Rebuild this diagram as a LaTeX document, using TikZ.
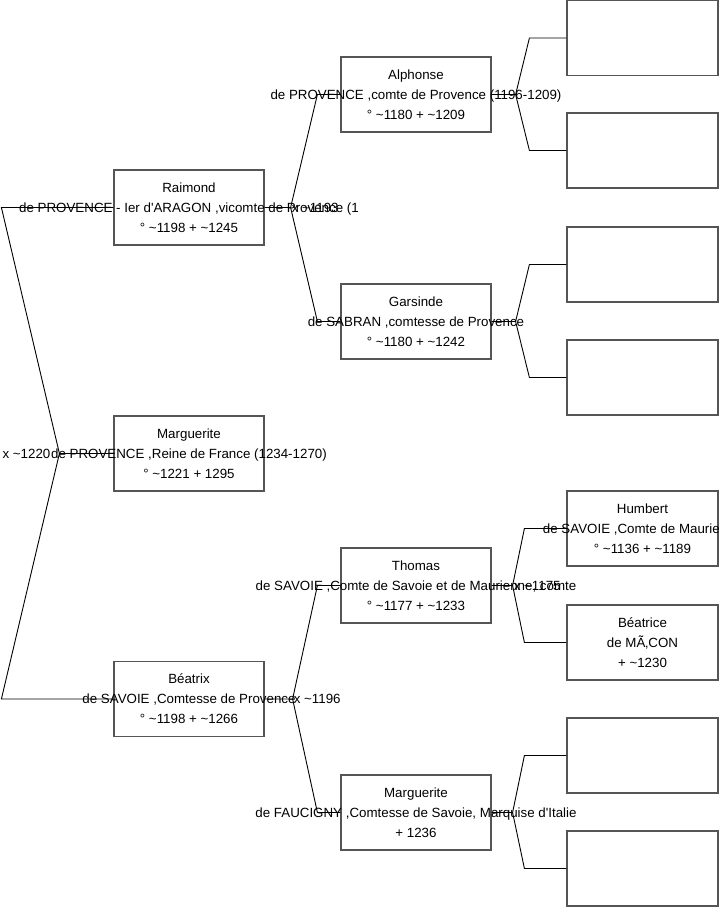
\documentclass[tikz,border=0pt]{standalone}
\usepackage{fontspec}
\setmainfont{Liberation Sans}[Ligatures=TeXOff]
\usepackage{tikz}
\definecolor{boxline}{HTML}{555555}
\newcommand{\circa}{\textasciitilde}

\begin{document}
\begin{tikzpicture}[x=1pt, y=-1pt,
  person/.style={draw=boxline, line width=1.2pt, minimum width=150pt, minimum height=75pt, inner sep=0pt},
  ancestor/.style={person, minimum width=151pt},
  ptext/.style={align=center, font=\fontsize{13.33}{20}\selectfont, inner sep=0pt},
  link/.style={draw=black, line width=0.9pt},
  union/.style={font=\fontsize{13.33}{20}\selectfont, anchor=west, inner sep=1pt}]
  \useasboundingbox (0,0) rectangle (719,908);

  % first generation
  \node[person, label={[ptext]center:{Raimond\\de PROVENCE - Ier d'ARAGON ,vicomte de Provence (1\\° \circa1198 + \circa1245}}] (raimond) at (189,207.5) {};
  \node[person, label={[ptext]center:{Marguerite\\de PROVENCE ,Reine de France (1234-1270)\\° \circa1221 + 1295}}] (marguerite) at (189,453.5) {};
  \node[person, label={[ptext]center:{Béatrix\\de SAVOIE ,Comtesse de Provence\\° \circa1198 + \circa1266}}] (beatrix) at (189,699) {};

  % second generation
  \node[person, label={[ptext]center:{Alphonse\\de PROVENCE ,comte de Provence (1196-1209)\\° \circa1180 + \circa1209}}] (alphonse) at (416,94.5) {};
  \node[person, label={[ptext]center:{Garsinde\\de SABRAN ,comtesse de Provence\\° \circa1180 + \circa1242}}] (garsinde) at (416,321.5) {};
  \node[person, label={[ptext]center:{Thomas\\de SAVOIE ,Comte de Savoie et de Maurienne, comte\\° \circa1177 + \circa1233}}] (thomas) at (416,585.5) {};
  \node[person, label={[ptext]center:{Marguerite\\de FAUCIGNY ,Comtesse de Savoie, Marquise d'Italie\\+ 1236}}] (faucigny) at (416,812.5) {};

  % third generation
  \node[ancestor] (alphonse-f) at (642.5,38) {};
  \node[ancestor] (alphonse-m) at (642.5,150.5) {};
  \node[ancestor] (garsinde-f) at (642.5,264.5) {};
  \node[ancestor] (garsinde-m) at (642.5,377.5) {};
  \node[ancestor, label={[ptext]center:{Humbert\\de SAVOIE ,Comte de Maurienne\\° \circa1136 + \circa1189}}] (humbert) at (642.5,528.5) {};
  \node[ancestor, label={[ptext]center:{Béatrice\\de MÃ‚CON\\+ \circa1230}}] (beatrice) at (642.5,642.5) {};
  \node[ancestor] (faucigny-f) at (642.5,755.5) {};
  \node[ancestor] (faucigny-m) at (642.5,868.5) {};

  % forks
  \draw[link] (marguerite.west) -- ++(-54,0) coordinate (f0) -- ([xshift=-112pt]raimond.west) -- (raimond.west);
  \draw[link] (f0) -- ([xshift=-112pt]beatrix.west) -- (beatrix.west);
  \node[union] (u0) at ([xshift=-58pt]f0) {x \circa1220};

  \draw[link] (raimond.east) -- ++(26,0) coordinate (f1) -- ([xshift=-23pt]alphonse.west) -- (alphonse.west);
  \draw[link] (f1) -- ([xshift=-23pt]garsinde.west) -- (garsinde.west);
  \node[union] (u1) at (f1) {x \circa1193};

  \draw[link] (beatrix.east) -- ++(28,0) coordinate (f2) -- ([xshift=-23pt]thomas.west) -- (thomas.west);
  \draw[link] (f2) -- ([xshift=-23pt]faucigny.west) -- (faucigny.west);
  \node[union] (u2) at (f2) {x \circa1196};

  \draw[link] (alphonse.east) -- ++(24,0) coordinate (f3) -- ([xshift=-37pt]alphonse-f.west) -- (alphonse-f.west);
  \draw[link] (f3) -- ([xshift=-37pt]alphonse-m.west) -- (alphonse-m.west);

  \draw[link] (garsinde.east) -- ++(24,0) coordinate (f4) -- ([xshift=-37pt]garsinde-f.west) -- (garsinde-f.west);
  \draw[link] (f4) -- ([xshift=-37pt]garsinde-m.west) -- (garsinde-m.west);

  \draw[link] (thomas.east) -- ++(21,0) coordinate (f5) -- ([xshift=-42pt]humbert.west) -- (humbert.west);
  \draw[link] (f5) -- ([xshift=-42pt]beatrice.west) -- (beatrice.west);
  \node[union] (u5) at (f5) {x \circa1175};

  \draw[link] (faucigny.east) -- ++(21,0) coordinate (f6) -- ([xshift=-42pt]faucigny-f.west) -- (faucigny-f.west);
  \draw[link] (f6) -- ([xshift=-42pt]faucigny-m.west) -- (faucigny-m.west);
\end{tikzpicture}
\end{document}
